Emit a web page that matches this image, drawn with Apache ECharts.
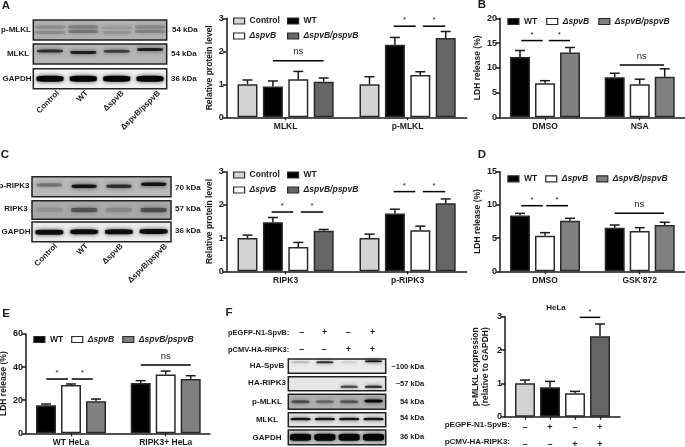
<!DOCTYPE html>
<html><head><meta charset="utf-8">
<style>html,body{margin:0;padding:0;background:#fff}#c{width:685px;height:447px}</style>
<script src="https://cdn.jsdelivr.net/npm/echarts@6/dist/echarts.min.js"></script>
</head><body><div id="c"></div>
<script>
// ---------- data ----------
const namesA = ['Control','WT','ΔspvB','ΔspvB/pspvB'];
const namesB = ['WT','ΔspvB','ΔspvB/pspvB'];
const catsA = ['MLKL','p-MLKL'];
const valsA = [[1.0,1.0],[0.93,2.2],[1.15,1.28],[1.08,2.4]];
const highA = [[1.13,1.23],[1.10,2.42],[1.39,1.38],[1.19,2.6]];
const sigA = [[0,1,3,1.71,'ns'],[1,0.95,1.82,2.76,'*'],[1,2.1,2.98,2.76,'*']];
const catsB = ['DMSO','NSA'];
const valsB = [[12.2,8.1],[6.9,6.7],[13.1,8.2]];
const highB = [[13.5,8.9],[7.4,7.7],[14.1,9.8]];
const sigB = [[0,0.05,0.91,15.5,'*'],[0,1.15,2,15.5,'*'],[1,0.2,1.97,10.57,'ns']];
const catsC = ['RIPK3','p-RIPK3'];
const valsC = [[1.0,1.0],[1.48,1.74],[0.73,1.24],[1.22,2.05]];
const highC = [[1.09,1.12],[1.62,1.87],[0.87,1.36],[1.26,2.18]];
const sigC = [[0,0.95,1.8,1.785,'*'],[0,2.1,2.98,1.785,'*'],[1,0.95,1.8,2.4,'*'],[1,2.1,2.98,2.4,'*']];
const catsD = ['DMSO',"GSK'872"];
const valsD = [[8.4,6.57],[5.37,6.07],[7.63,6.97]];
const highD = [[8.73,6.97],[5.82,6.57],[7.98,7.38]];
const sigD = [[0,0.05,0.91,9.88,'*'],[0,1.05,1.92,9.88,'*'],[1,0,1.97,8.73,'ns']];
const catsE = ['WT HeLa','RIPK3+ HeLa'];
const valsE = [[16.9,30.4],[29.2,35.6],[19.3,32.8]];
const highE = [[17.7,31.8],[29.8,37.6],[20.7,34.8]];
const sigE = [[0,0.01,0.88,32.8,'*'],[0,1.03,1.87,32.8,'*'],[1,0,2,41.2,'ns']];
const signsEGFP = ['–','+','–','+'];
const signsHA = ['–','–','+','+'];
const valsF = [1.0,0.88,0.7,2.41];
const highF = [1.1,1.06,0.76,2.78];
const colorsF = ['#d3d3d3','#000000','#ffffff','#666666'];
const sigF = [[2,0.19,1.01,2.98,'*']];
// western blot bands: lane, height in the strip (0 top - 1 bottom), darkness
const bandsPMLKL = [[0,.35,.16],[0,.62,.16],[1,.35,.22],[1,.58,.26],[2,.38,.1],[2,.62,.12],[3,.35,.18],[3,.58,.2]];
const bandsMLKL = [[0,.35,.7],[1,.42,.8],[2,.36,.6],[3,.28,.8]];
const bandsGAPDH1 = [[0,.5,1],[1,.5,1],[2,.5,1],[3,.5,1]];
const bandsPRIPK3 = [[0,.42,.3],[1,.48,.9],[2,.48,.7],[3,.38,.9]];
const bandsRIPK3 = [[0,.48,.1],[1,.5,.42],[2,.5,.15],[3,.5,.45]];
const bandsGAPDH2 = [[0,.52,.95],[1,.5,.95],[2,.5,.95],[3,.48,.95]];
const bandsHASpvB = [[0,.22,.18],[1,.22,.8],[2,.22,.1],[3,.15,.9]];
const bandsHARIPK3 = [[2,.72,.6],[3,.72,.72]];
const bandsPMLKL2 = [[0,.5,.5],[1,.5,.35],[2,.5,.45],[3,.45,.98]];
const bandsMLKL2 = [[0,.45,.9],[1,.45,.9],[2,.45,.9],[3,.45,.9]];
const bandsGAPDH3 = [[0,.5,1],[1,.5,1],[2,.5,.98],[3,.5,1]];
const laneNames = ['Control','WT','ΔspvB','ΔspvB/pspvB'];

// ---------- helpers ----------
const FF = '"Liberation Sans", Arial, sans-serif';
const INK = '#1a1a1a';
const opt = {backgroundColor:'#fff',animation:false,grid:[],xAxis:[],yAxis:[],series:[],legend:[],graphic:{elements:[]}};
const txt = (x,y,t,o={})=>opt.graphic.elements.push({type:'text',x,y,rotation:o.rot||0,silent:true,
  style:{text:t,fill:o.fill||INK,font:`${o.italic?'italic ':''}${o.weight||'bold'} ${o.size||8.5}px ${FF}`,
  textAlign:o.align||'center',textVerticalAlign:o.va||'middle'}});
function addGrid(g,x,y){const i=opt.grid.length;opt.grid.push(Object.assign({outerBoundsMode:'none',containLabel:false},g));opt.xAxis.push(Object.assign({gridIndex:i},x));opt.yAxis.push(Object.assign({gridIndex:i},y));return i;}
const axisStyle={show:true,lineStyle:{color:INK,width:1.5}};
const tickStyle={show:true,length:4,lineStyle:{color:INK,width:1.5}};

function sigSeries(idx,sig,pitch,sCenter){
  opt.series.push({type:'custom',xAxisIndex:idx,yAxisIndex:idx,silent:true,clip:false,z:5,
    data:sig.map(d=>[d[0],d[3]]),encode:{x:0,y:1},
    renderItem(p,api){
      const d=sig[p.dataIndex];const c=api.coord([d[0],d[3]]);
      const x1=c[0]+(d[1]-sCenter)*pitch,x2=c[0]+(d[2]-sCenter)*pitch;
      const isNs=d[4]==='ns';
      return {type:'group',children:[
        {type:'line',shape:{x1,y1:c[1],x2,y2:c[1]},style:{stroke:'#000',lineWidth:1.5}},
        {type:'text',style:{text:d[4],x:(x1+x2)/2,y:c[1]-(isNs?9:6),textAlign:'center',textVerticalAlign:'middle',
          font:`normal ${isNs?9.5:8}px ${FF}`,fill:INK}}]};
    }});
}
function errSeries(idx,vals,high,off){
  opt.series.push({type:'custom',xAxisIndex:idx,yAxisIndex:idx,silent:true,z:3,
    data:vals.map((v,i)=>[i,v,high[i]]),encode:{x:0,y:[1,2]},
    renderItem(p,api){
      const a=api.coord([api.value(0),api.value(1)]),b=api.coord([api.value(0),api.value(2)]);
      const x=a[0]+off;
      return {type:'group',children:[
        {type:'line',shape:{x1:x,y1:a[1],x2:x,y2:b[1]},style:{stroke:INK,lineWidth:1.5}},
        {type:'line',shape:{x1:x-5,y1:b[1],x2:x+5,y2:b[1]},style:{stroke:INK,lineWidth:1.5}}]};
    }});
}
function axesHelper(c){
  addGrid({left:c.axL,top:c.top,width:c.axR-c.axL,height:c.bot-c.top},
    {type:'value',min:0,max:1,axisLine:Object.assign({},axisStyle,{onZero:false}),axisTick:{show:false},axisLabel:{show:false},splitLine:{show:false}},
    {type:'value',min:0,max:c.max,interval:c.step,axisLine:axisStyle,axisTick:tickStyle,splitLine:{show:false},
     axisLabel:{color:INK,fontFamily:FF,fontWeight:'bold',fontSize:9,margin:3},
     name:c.yName,nameLocation:'middle',nameGap:c.nameGap,nameRotate:90,
     nameTextStyle:{color:INK,fontFamily:FF,fontWeight:'bold',fontSize:c.nameSize||8.5,lineHeight:10}});
}
function barPanel(c){
  axesHelper(c);
  const n=c.names.length;
  const idx=addGrid({left:c.c0-c.sep/2,top:c.top,width:c.sep*c.cats.length,height:c.bot-c.top},
    {type:'category',data:c.cats,axisLine:{show:false},axisTick:{show:true,alignWithLabel:true,length:3,lineStyle:{color:INK,width:1.2}},
     axisLabel:{color:INK,fontFamily:FF,fontWeight:'bold',fontSize:8.5,margin:5}},
    {type:'value',min:0,max:c.max,show:false});
  c.names.forEach((nm,s)=>{
    opt.series.push({type:'bar',name:nm,xAxisIndex:idx,yAxisIndex:idx,data:c.vals[s],barWidth:20,barGap:((c.pitch-20)/20*100)+'%',
      itemStyle:{color:c.colors[s],borderColor:'#2a2a2a',borderWidth:1.5},z:2,silent:true});
    errSeries(idx,c.vals[s],c.high[s],(s-(n-1)/2)*c.pitch);
  });
  sigSeries(idx,c.sig,c.pitch,(n-1)/2);
}
const swatch=(col)=>({color:col,borderColor:'#2a2a2a',borderWidth:1.2});
const legItem=(nm,col)=>({name:nm,icon:'rect',itemStyle:swatch(col),textStyle:{fontStyle:nm.startsWith('Δ')?'italic':'normal'}});
const legBase={itemWidth:11,itemHeight:6,selectedMode:false,textStyle:{color:INK,fontFamily:FF,fontWeight:'bold',fontSize:8.5}};
function legendCol(l,t,items){opt.legend.push(Object.assign({},legBase,{left:l,top:t,orient:'vertical',itemGap:6,padding:0,data:items}));}
function legendRow(l,t,items,gap){opt.legend.push(Object.assign({},legBase,{left:l,top:t,orient:'horizontal',itemGap:gap,padding:0,data:items}));}

function blot(b){
  const i=addGrid({show:true,left:b.x0,top:b.y0,width:b.x1-b.x0,height:b.y1-b.y0,backgroundColor:b.bg,borderColor:'#222',borderWidth:1.5},
    {type:'category',data:[0,1,2,3],show:false},{type:'value',min:0,max:1,inverse:true,show:false});
  opt.series.push({type:'scatter',xAxisIndex:i,yAxisIndex:i,silent:true,symbol:'roundRect',symbolSize:[b.w,b.h],
    data:b.bands.map(d=>({value:[d[0],d[1]],itemStyle:{opacity:d[2]}})),
    itemStyle:{color:'#050505',shadowBlur:4,shadowColor:'rgba(0,0,0,0.75)'}});
}

// ---------- bar panels ----------
const colsA=['#d3d3d3','#000000','#ffffff','#666666'];
const colsB=['#000000','#ffffff','#808080'];
barPanel({axL:226.7,axR:466.7,top:18.3,bot:117.3,max:3,step:1,yName:'Relative protein level',nameGap:12,c0:285.6,sep:122,pitch:25.4,
  names:namesA,cats:catsA,vals:valsA,high:highA,sig:sigA,colors:colsA});
barPanel({axL:500,axR:685,top:18.3,bot:117.3,max:20,step:5,yName:'LDH release (%)',nameGap:16,c0:545,sep:94.7,pitch:25,
  names:namesB,cats:catsB,vals:valsB,high:highB,sig:sigB,colors:colsB});
barPanel({axL:226.7,axR:466.7,top:171.7,bot:271.3,max:3,step:1,yName:'Relative protein level',nameGap:12,c0:285.6,sep:122,pitch:25.4,
  names:namesA,cats:catsC,vals:valsC,high:highC,sig:sigC,colors:colsA});
barPanel({axL:500,axR:685,top:171.7,bot:271.3,max:15,step:5,yName:'LDH release (%)',nameGap:16,c0:545,sep:94.7,pitch:25,
  names:namesB,cats:catsD,vals:valsD,high:highD,sig:sigD,colors:colsB});
barPanel({axL:26,axR:210,top:334,bot:433.3,max:60,step:20,yName:'LDH release (%)',nameGap:16,c0:71,sep:94.7,pitch:25,
  names:namesB,cats:catsE,vals:valsE,high:highE,sig:sigE,colors:colsB});

// panel F bar chart
axesHelper({axL:505,axR:620,top:316.7,bot:416.7,max:3,step:1,yName:'p-MLKL expression\n(relative to GAPDH)',nameGap:14,nameSize:8.5});
const fIdx=addGrid({left:512.5,top:316.7,width:100,height:100},
  {type:'category',data:signsEGFP.map((s,i)=>s+'\n'+signsHA[i]),axisLine:{show:false},
   axisTick:{show:true,alignWithLabel:true,length:3,lineStyle:{color:INK,width:1.2}},
   axisLabel:{color:INK,fontFamily:FF,fontWeight:'bold',fontSize:9,lineHeight:17,margin:2,interval:0}},
  {type:'value',min:0,max:3,show:false});
opt.series.push({type:'bar',name:'p-MLKL',xAxisIndex:fIdx,yAxisIndex:fIdx,barWidth:20,z:2,silent:true,
  data:valsF.map((v,i)=>({value:v,itemStyle:{color:colorsF[i]}})),itemStyle:{borderColor:'#2a2a2a',borderWidth:1.5}});
errSeries(fIdx,valsF,highF,0);
sigSeries(fIdx,sigF,25,0);

// ---------- legends ----------
legendCol(233,16.5,[legItem('Control',colsA[0]),legItem('ΔspvB',colsA[2])]);
legendCol(287,16.5,[legItem('WT',colsA[1]),legItem('ΔspvB/pspvB',colsA[3])]);
legendCol(233,170.5,[legItem('Control',colsA[0]),legItem('ΔspvB',colsA[2])]);
legendCol(287,170.5,[legItem('WT',colsA[1]),legItem('ΔspvB/pspvB',colsA[3])]);
const rowB=namesB.map((n,i)=>legItem(n,colsB[i]));
legendRow(507.3,17,rowB,9);
legendRow(507.3,174.3,rowB,8);
legendRow(33.3,335,rowB,8);

// ---------- western blots ----------
[[bandsPMLKL,20,40,'#b2b2b2',30,3.5],[bandsMLKL,44,64,'#b6b6b6',26,3],[bandsGAPDH1,68.7,88.7,'#f2f2f2',27,6]]
 .forEach(r=>blot({x0:33.3,x1:166.7,y0:r[1],y1:r[2],bg:r[3],bands:r[0],w:r[4],h:r[5]}));
[[bandsPRIPK3,176.7,196.7,'#b8b8b8',25,3.5],[bandsRIPK3,200.7,219.3,'#a8a8a8',26,4.5],[bandsGAPDH2,222,241.7,'#ececec',28,5]]
 .forEach(r=>blot({x0:32,x1:171,y0:r[1],y1:r[2],bg:r[3],bands:r[0],w:r[4],h:r[5]}));
[[bandsHASpvB,359,373.3,'#ececec',17,2],[bandsHARIPK3,376.7,390.7,'#e6e6e6',17,2.5],[bandsPMLKL2,394.3,409.3,'#b0b0b0',18,3],
 [bandsMLKL2,412.7,426.7,'#e8e8e8',20,2.5],[bandsGAPDH3,430,444.7,'#cfcfcf',21,7]]
 .forEach(r=>blot({x0:288.3,x1:385.7,y0:r[1],y1:r[2],bg:r[3],bands:r[0],w:r[4],h:r[5]}));

// ---------- text ----------
[['A',6,6],['B',482,5],['C',5,155],['D',482,155],['E',6,314],['F',229,313]].forEach(l=>txt(l[1],l[2],l[0],{size:11.5}));
txt(16,30,'p-MLKL',{size:8});txt(18,54,'MLKL',{size:8});txt(17,78.5,'GAPDH',{size:8});
txt(172,30,'54 kDa',{align:'left',size:8});txt(171,53.5,'54 kDa',{align:'left',size:8});txt(171,79,'36 kDa',{align:'left',size:8});
txt(14,186,'p-RIPK3',{size:8});txt(16,209,'RIPK3',{size:8});txt(16,231.7,'GAPDH',{size:8});
txt(175,187.5,'70 kDa',{align:'left',size:8});txt(175,209,'57 kDa',{align:'left',size:8});txt(175,231,'36 kDa',{align:'left',size:8});
const rot45=Math.PI/4;
[58,87,122.7,159].forEach((x,i)=>txt(x,92,laneNames[i],{align:'right',rot:rot45,size:8}));
[56,87,121.7,166].forEach((x,i)=>txt(x,245,laneNames[i],{align:'right',rot:rot45,size:8}));
// panel F blot labels
txt(228,333,'pEGFP-N1-SpvB:',{align:'left',size:7.5});txt(228,350,'pCMV-HA-RIPK3:',{align:'left',size:7.5});
[301.7,324.3,348.3,372.3].forEach((x,i)=>{txt(x,333,signsEGFP[i],{size:9});txt(x,350,signsHA[i],{size:9});});
[['HA-SpvB',366],['HA-RIPK3',383],['p-MLKL',401.7],['MLKL',419.3],['GAPDH',437.3]].forEach(r=>txt(267,r[1],r[0],{size:8}));
[['~100 kDa',407.7,366.7],['~57 kDa',410,384],['54 kDa',412,401.7],['54 kDa',412,418],['36 kDa',412,437.3]].forEach(r=>txt(r[1],r[2],r[0],{size:7.5}));
// panel F bar chart text
txt(556,308,'HeLa',{size:8});
txt(510,425,'pEGPF-N1-SpvB:',{align:'right',size:8});
txt(510,442,'pCMV-HA-RIPK3:',{align:'right',size:8});

echarts.init(document.getElementById('c'),null,{renderer:'canvas'}).setOption(opt);
</script></body></html>
